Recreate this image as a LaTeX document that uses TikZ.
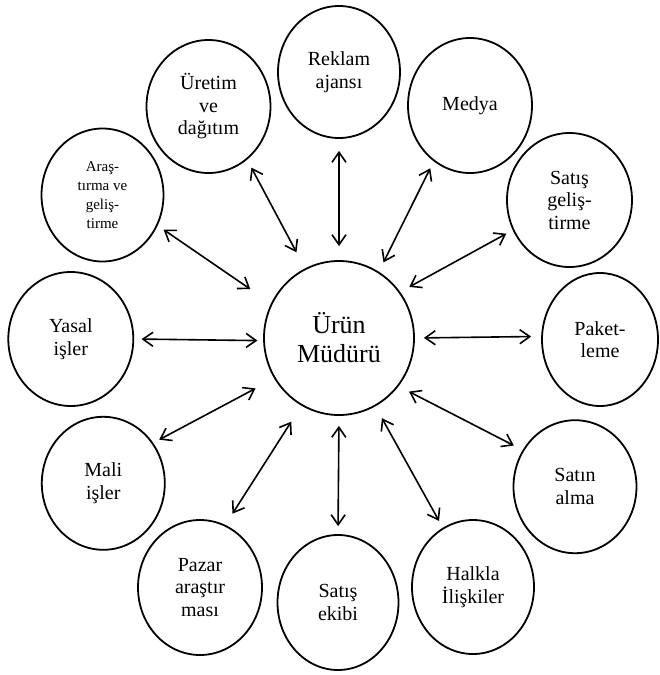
\documentclass[tikz,border=0pt]{standalone}
\usepackage{fontspec}
\setmainfont{Liberation Serif}
\usetikzlibrary{shapes.geometric,arrows.meta}
\begin{document}
\begin{tikzpicture}[x=1pt,y=-1pt,
  unit/.style={ellipse,draw,line width=1.8pt,inner sep=0pt,align=center,
    font=\fontsize{20}{22.5}\selectfont},
  hub/.style={ellipse,draw,line width=1.8pt,inner sep=0pt,align=center,
    font=\fontsize{26}{29}\selectfont,minimum width=150pt,minimum height=154pt},
  link/.style={line width=1.6pt,
    {Straight Barb[length=10pt,width=14pt]}-{Straight Barb[length=10pt,width=14pt]}}]
\useasboundingbox (0,0) rectangle (659,675);

% central unit
\node[hub] (center) at (339,338) {Ürün\\Müdürü};

% surrounding units
\node[unit,minimum width=122pt,minimum height=132pt] (reklam) at (339,72) {Reklam\\ajansı};
\node[unit,minimum width=124pt,minimum height=135pt] (medya) at (470,105.5) {Medya};
\node[unit,minimum width=125pt,minimum height=134pt] (satisgel) at (569.5,200) {Satış\\geliş-\\tirme};
\node[unit,minimum width=116pt,minimum height=133pt] (paket) at (600,339.5) {Paket-\\leme};
\node[unit,minimum width=123pt,minimum height=133pt] (satinalma) at (575,486.7) {Satın\\alma};
\node[unit,minimum width=122pt,minimum height=134pt] (halkla) at (473,587) {Halkla\\İlişkiler};
\node[unit,minimum width=121pt,minimum height=135pt] (ekip) at (338,602.5) {Satış\\ekibi};
\node[unit,minimum width=124pt,minimum height=135pt] (pazar) at (200,587.5) {Pazar\\araştır\\ması};
\node[unit,minimum width=123pt,minimum height=133pt] (mali) at (103.3,483.3) {Mali\\işler};
\node[unit,minimum width=125pt,minimum height=134pt] (yasal) at (70.8,339) {Yasal\\işler};
\node[unit,minimum width=122pt,minimum height=133pt,font=\fontsize{15}{19}\selectfont] (arge) at (102.5,195) {Araş-\\tırma ve\\geliş-\\tirme};
\node[unit,minimum width=124pt,minimum height=133pt] (uretim) at (208.5,106.5) {Üretim\\ve\\dağıtım};

% two-way links to the central unit
\draw[link,shorten <=9pt,shorten >=18.2pt] (uretim.-54.9) -- (center.116.3);
\draw[link,shorten <=12pt,shorten >=14pt] (reklam.-90) -- (center.90);
\draw[link,shorten <=7.7pt,shorten >=10.4pt] (medya.-123) -- (center.59.6);
\draw[link,shorten <=7.3pt,shorten >=10.4pt] (satisgel.-152.2) -- (center.37.9);
\draw[link,shorten <=10pt,shorten >=9pt] (paket.177.9) -- (center.0.7);
\draw[link,shorten <=9.9pt,shorten >=11.7pt] (satinalma.145.2) -- (center.-39);
\draw[link,shorten <=7.8pt,shorten >=13.5pt] (halkla.117.6) -- (center.-62.6);
\draw[link,shorten <=8pt,shorten >=10pt] (ekip.90) -- (center.-90);
\draw[link,shorten <=13.3pt,shorten >=18.9pt] (pazar.68.7) -- (center.-119.5);
\draw[link,shorten <=6.8pt,shorten >=21.1pt] (mali.39) -- (center.-148.1);
\draw[link,shorten <=7.4pt,shorten >=5.7pt] (yasal.-0.8) -- (center.-178.6);
\draw[link,shorten <=7.2pt,shorten >=25.1pt] (arge.-29.3) -- (center.153.4);
\end{tikzpicture}
\end{document}
